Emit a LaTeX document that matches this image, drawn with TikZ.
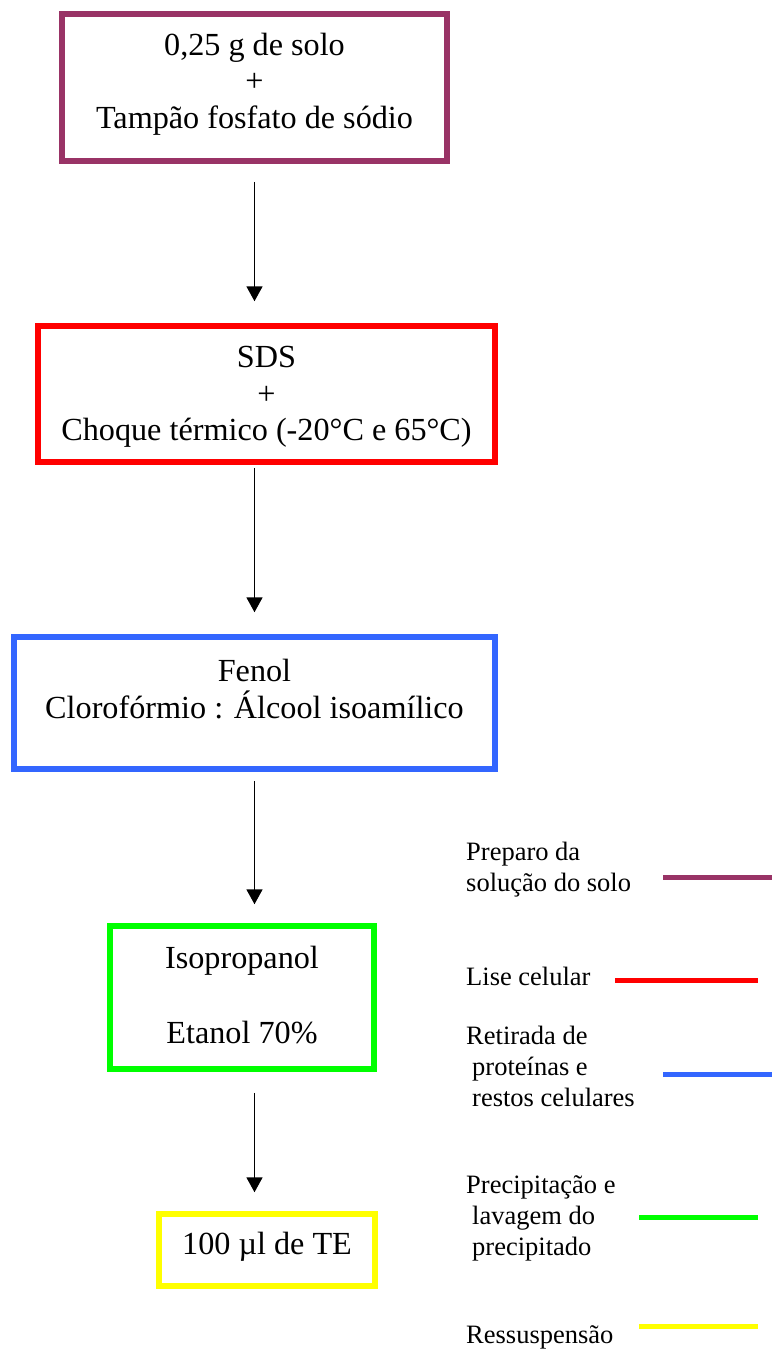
\documentclass[tikz,border=0pt]{standalone}
\usepackage{fontspec}
\setmainfont{Liberation Serif}
\usetikzlibrary{arrows.meta,calc}

\definecolor{plum}{HTML}{993366}
\definecolor{lisered}{HTML}{FF0000}
\definecolor{protblue}{HTML}{3366FF}
\definecolor{precgreen}{HTML}{00FF00}
\definecolor{resyellow}{HTML}{FFFF00}

\begin{document}
\begin{tikzpicture}[x=1pt,y=-1pt,
  stepbox/.style={draw=#1, line width=5.5pt, rectangle, inner sep=0pt},
  steptext/.style={align=center, inner sep=0pt,
    font=\fontsize{32.2}{36.5}\selectfont},
  legtext/.style={align=left, anchor=west, inner sep=0pt,
    font=\fontsize{26.5}{31}\selectfont},
  swatch/.style={draw=#1, line width=5pt},
  flow/.style={line width=1.8pt, -{Triangle[width=16pt,length=15pt]}}]

\useasboundingbox (0,0) rectangle (772,1361);

% process boxes
\node[stepbox=plum, minimum width=385pt, minimum height=147pt] (b1) at (254.5,87.5) {};
\node[stepbox=lisered, minimum width=457pt, minimum height=136pt] (b2) at (266.5,394) {};
\node[stepbox=protblue, minimum width=481pt, minimum height=132pt] (b3) at (254.5,703) {};
\node[stepbox=precgreen, minimum width=264pt, minimum height=143pt] (b4) at (242,997.5) {};
\node[stepbox=resyellow, minimum width=216pt, minimum height=72pt] (b5) at (267,1250) {};

% box contents
\node[steptext] (t1) at (254.5,84) {0,25 g de solo\\+\\Tampão fosfato de sódio};
\node[steptext] (t2) at (266.5,397) {SDS\\+\\Choque térmico (-20°C e 65°C)};
\node[steptext] (t3) at (254.5,689) {Fenol\\Clorofórmio : Álcool isoamílico};
\node[steptext] (t4) at (242,995.5) {Isopropanol\\[38.5pt]Etanol 70\%};
\node[steptext] (t5) at (267,1247) {100 µl de TE};

% flow arrows along one vertical axis
\draw[flow] ($(b1.south)+(0,18)$) -- ($(b1.south |- b2.north)+(0,-22)$);
\draw[flow] ($(b1.south |- b2.south)+(0,3)$) -- ($(b1.south |- b3.north)+(0,-22)$);
\draw[flow] ($(b1.south |- b3.south)+(0,9)$) -- ($(b1.south |- b4.north)+(0,-19)$);
\draw[flow] ($(b1.south |- b4.south)+(0,21)$) -- ($(b1.south |- b5.north)+(0,-19)$);

% legend
\node[legtext] (l1) at (466,870) {Preparo da\\solução do solo};
\node[legtext] (l2) at (466,976) {Lise celular};
\node[legtext] (l3) at (466,1066) {Retirada de\\\hspace*{6pt}proteínas e\\\hspace*{6pt}restos celulares};
\node[legtext] (l4) at (466,1218) {Precipitação e\\\hspace*{6pt}lavagem do\\\hspace*{6pt}precipitado};
\node[legtext] (l5) at (466,1337) {Ressuspensão};

\coordinate (s1a) at (663,877);  \coordinate (s1b) at (772,877);
\coordinate (s2a) at (615,980);  \coordinate (s2b) at (758,980);
\coordinate (s3a) at (663,1074); \coordinate (s3b) at (772,1074);
\coordinate (s4a) at (639,1217); \coordinate (s4b) at (758,1217);
\coordinate (s5a) at (639,1326); \coordinate (s5b) at (758,1326);

\draw[swatch=plum] (s1a) -- (s1b);
\draw[swatch=lisered] (s2a) -- (s2b);
\draw[swatch=protblue] (s3a) -- (s3b);
\draw[swatch=precgreen] (s4a) -- (s4b);
\draw[swatch=resyellow] (s5a) -- (s5b);

\end{tikzpicture}
\end{document}
